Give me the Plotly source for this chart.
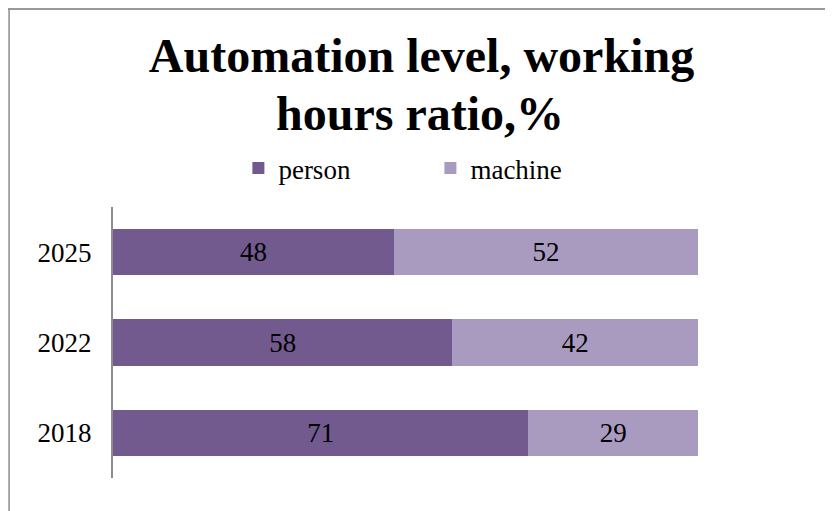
import plotly.graph_objects as go

years = ["2018", "2022", "2025"]
person = [71, 58, 48]
machine = [29, 42, 52]
series_names = ["person", "machine"]
colors = ["#725A8F", "#A99BC0"]
title_lines = ["Automation level, working", "hours ratio,%"]

W, H = 833, 511
L, R, T, B = 104.5, 143, 199, 41
pw = W - L - R
ph = H - T - B
FONT = "Liberation Serif"


def px_x(p):
    return (p - L) / pw


def px_y(p):
    return (H - B - p) / ph


fig = go.Figure()
for name, vals, c in zip(series_names, [person, machine], colors):
    fig.add_trace(go.Bar(
        y=years, x=vals, name=name, orientation="h",
        marker=dict(color=c, line=dict(width=0)),
        text=[str(v) for v in vals], textposition="inside",
        insidetextanchor="middle",
        textfont=dict(family=FONT, size=27, color="black"),
        cliponaxis=False,
    ))

fig.update_layout(
    width=W, height=H,
    barmode="stack", bargap=0.49,
    paper_bgcolor="white", plot_bgcolor="white",
    margin=dict(l=L, r=R, t=T, b=B),
    font=dict(family=FONT, size=27, color="black"),
    title=dict(
        text="<b>" + title_lines[0] + "</b>",
        x=413.5 / W, xanchor="center", xref="container",
        y=1 - 30 / H, yanchor="top", yref="container",
        font=dict(family=FONT, size=48, color="black"),
    ),
    annotations=[dict(
        text="<b>" + title_lines[1] + "</b>",
        xref="paper", yref="paper", x=px_x(411.5), y=px_y(105),
        xanchor="center", yanchor="middle", showarrow=False,
        font=dict(family=FONT, size=48, color="black"),
    )],
    legend=dict(
        orientation="h", x=px_x(230), xanchor="left",
        y=px_y(136), yanchor="top",
        font=dict(family=FONT, size=27, color="black"),
        entrywidth=147, entrywidthmode="pixels",
        itemwidth=30, traceorder="normal",
    ),
    xaxis=dict(range=[0, 100], visible=False, fixedrange=True),
    yaxis=dict(
        range=[-0.5, 2.5], showline=True, linecolor="#8c8c8c", linewidth=2,
        showgrid=False, zeroline=False, ticks="", ticklabelstandoff=14,
        tickfont=dict(family=FONT, size=27, color="black"),
    ),
    showlegend=True,
    shapes=[
        dict(type="line", xref="paper", yref="paper",
             x0=px_x(-3), x1=px_x(833), y0=px_y(1), y1=px_y(1),
             line=dict(color="#999999", width=2)),
        dict(type="line", xref="paper", yref="paper",
             x0=px_x(0.5), x1=px_x(0.5), y0=px_y(1), y1=px_y(511),
             line=dict(color="#8c8c8c", width=1.5)),
    ],
)

fig.write_html("out.html")
